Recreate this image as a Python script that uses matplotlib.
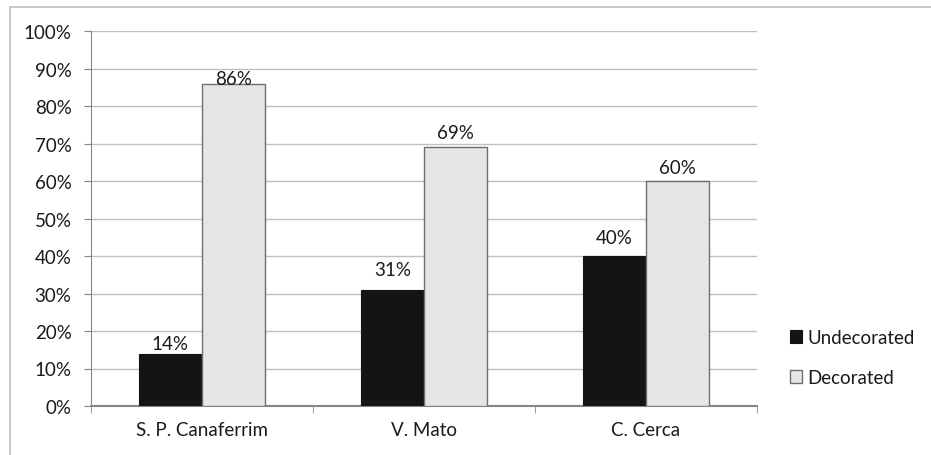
import numpy as np
import matplotlib
matplotlib.use('Agg')
import matplotlib.pyplot as plt
from matplotlib.patches import Rectangle

plt.rcParams['font.family'] = ['Lato', 'DejaVu Sans']

sites = ['S. P. Canaferrim', 'V. Mato', 'C. Cerca']
undecorated = [14, 31, 40]
decorated = [86, 69, 60]
yticks = [0, 10, 20, 30, 40, 50, 60, 70, 80, 90, 100]

# label gaps above bars in pixels (labels were hand placed in the original)
gap_undec = [5, 15, 13]
gap_dec = [0, 9, 8]

fs = 13.5
fig = plt.figure(figsize=(9.31, 4.56), dpi=100)
# outer chart frame (only left and top edges show)
fig.patches.append(Rectangle((10 / 931, -0.1), 1.2, 1 - 7.5 / 456 + 0.1,
                             transform=fig.transFigure, fill=False,
                             edgecolor='#bfbfbf', lw=1.2))
ax = fig.add_axes([91 / 931, 1 - 407 / 456, (757 - 91) / 931, (407 - 32) / 456])

x = np.arange(len(sites))
wid = 0.286
b1 = ax.bar(x - wid / 2, undecorated, wid, label='Undecorated',
            color='#141414', edgecolor='#141414', lw=0.8, zorder=3)
b2 = ax.bar(x + wid / 2, decorated, wid, label='Decorated',
            color='#e6e6e6', edgecolor='#6e6e6e', lw=1.0, zorder=3)

def autolabel(rects, vals, gaps):
    for rect, v, g in zip(rects, vals, gaps):
        ax.annotate('{}%'.format(v),
                    xy=(rect.get_x() + rect.get_width() / 2, rect.get_height()),
                    xytext=(0, g * 0.72), textcoords='offset points',
                    ha='center', va='baseline', fontsize=fs, color='#1a1a1a')

autolabel(b1, undecorated, gap_undec)
autolabel(b2, decorated, gap_dec)

ax.set_xlim(-0.5, len(sites) - 0.5)
ax.set_ylim(0, 100)
ax.set_yticks(yticks)
ax.set_yticklabels(['{}%'.format(t) for t in yticks], fontsize=fs, color='#1a1a1a')
ax.set_xticks(x)
ax.set_xticklabels(sites, fontsize=fs, color='#1a1a1a')
ax.tick_params(axis='x', length=0, pad=11)
ax.set_xticks(np.arange(-0.5, len(sites)), minor=True)
ax.tick_params(axis='x', which='minor', length=5, color='#868686', direction='out')
ax.tick_params(axis='y', length=5, color='#868686', pad=9)
ax.yaxis.grid(True, color='#bfbfbf', lw=1.0, zorder=0)
ax.set_axisbelow(True)
for s in ['top', 'right']:
    ax.spines[s].set_visible(False)
ax.spines['left'].set_color('#868686')
ax.spines['bottom'].set_color('#868686')
ax.spines['bottom'].set_linewidth(1.5)

leg = fig.legend(handles=[b1, b2], loc='upper left',
                 bbox_to_anchor=(773 / 931, 1 - 313 / 456), frameon=False,
                 fontsize=fs, handlelength=0.65, handleheight=0.65,
                 handletextpad=0.3, labelspacing=1.25)
for t in leg.get_texts():
    t.set_color('#1a1a1a')

fig.savefig('out.png', dpi=100)
